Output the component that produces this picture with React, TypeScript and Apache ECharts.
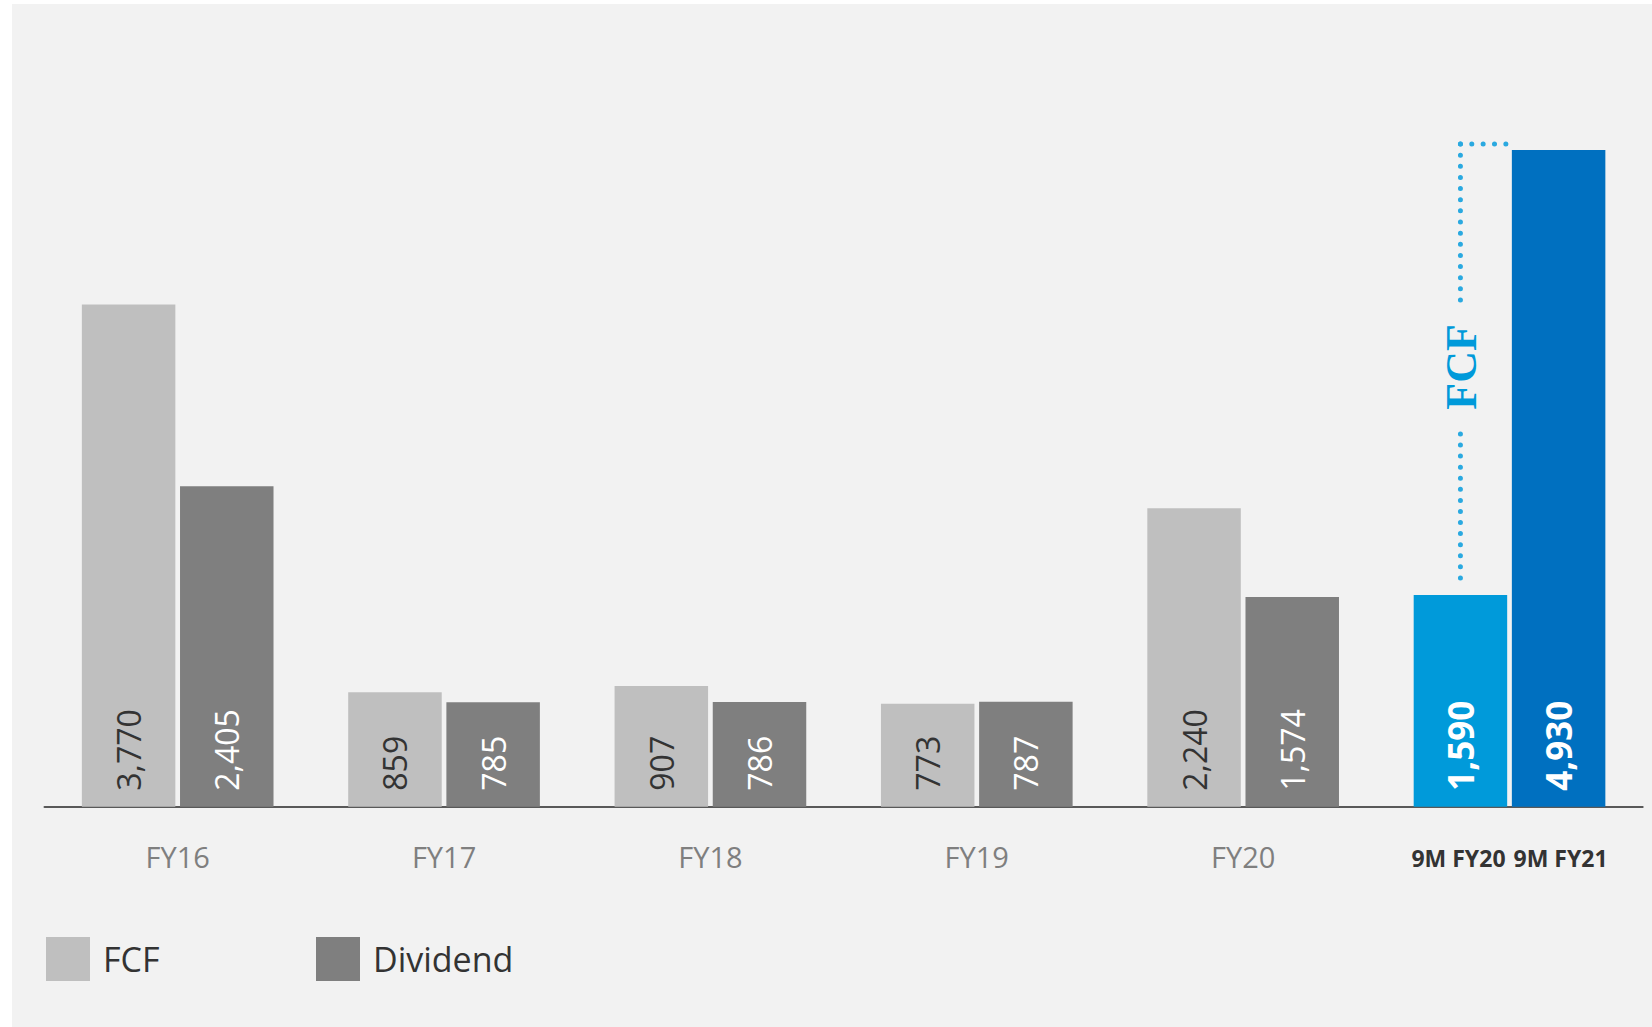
import React, { useEffect, useRef } from 'react';
import * as echarts from 'echarts';

const categories = ['FY16', 'FY17', 'FY18', 'FY19', 'FY20', '9M'];
const nineMonthLabels = ['9M FY20', '9M FY21'];
const fcfValues = [3770, 859, 907, 773, 2240, 1590];
const dividendValues = [2405, 785, 786, 787, 1574, 4930];
const seriesNames = ['FCF', 'Dividend'];
const annotationText = 'FCF';

const fmt = (v: number) => v.toLocaleString('en-US');

function dottedLine(x1: number, y1: number, x2: number, y2: number, color: string) {
  const len = Math.hypot(x2 - x1, y2 - y1);
  const n = Math.max(1, Math.round(len / 11.2));
  const s = len / n;
  const ext = 0.6 / len;
  return {
    type: 'line',
    shape: { x1, y1, x2: x2 + (x2 - x1) * ext, y2: y2 + (y2 - y1) * ext },
    style: {
      stroke: color,
      lineWidth: 5,
      lineDash: [0.01, s - 0.01],
      lineCap: 'round',
      fill: null,
    },
  };
}

export default function App() {
  const ref = useRef<HTMLDivElement>(null);
  useEffect(() => {
    const chart = echarts.init(ref.current!, null, { renderer: 'svg' });
    const BAR_PCT = 0.351;
    const GAP_PCT = 0.05;
    const lastIdx = categories.length - 1;
    const labelBase: any = {
      show: true,
      position: 'insideBottom',
      rotate: 90,
      align: 'left',
      verticalAlign: 'middle',
      distance: 16,
      fontSize: 32,
      fontFamily: 'Open Sans',
      formatter: (p: any) => fmt(p.value),
    };
    const boldLabel = { color: '#fff', fontWeight: 'bold', fontSize: 35 };
    const legendBase: any = {
      top: 937,
      itemWidth: 44,
      itemHeight: 44,
      icon: 'rect',
      padding: 0,
      selectedMode: false,
      textStyle: { fontSize: 34, color: '#333', fontFamily: 'Open Sans', padding: [0, 0, 0, 8] },
    };
    chart.setOption({
      animation: false,
      textStyle: { fontFamily: 'Open Sans' },
      grid: { left: 44.5, right: 9.3, top: 140.7, bottom: 220.3 },
      xAxis: {
        type: 'category',
        data: categories,
        axisLine: { lineStyle: { color: '#595959', width: 2 } },
        axisTick: { show: false },
        axisLabel: {
          interval: 0,
          margin: 35,
          fontSize: 29,
          color: '#7f7f7f',
          fontFamily: 'Open Sans',
          formatter: (value: string, index: number) =>
            index === lastIdx
              ? `{b|${nineMonthLabels[0]}}{g|}{b|${nineMonthLabels[1]}}`
              : value,
          rich: {
            b: { fontSize: 23, fontWeight: 'bold', color: '#333', fontFamily: 'Open Sans', padding: [4, 0, 0, 0] },
            g: { width: 8 },
          },
        },
      },
      yAxis: { type: 'value', min: 0, max: 5000, show: false },
      legend: [
        { ...legendBase, left: 46, data: [seriesNames[0]] },
        { ...legendBase, left: 316, data: [seriesNames[1]] },
      ],
      series: [
        {
          name: seriesNames[0],
          type: 'bar',
          barWidth: BAR_PCT * 100 + '%',
          barGap: GAP_PCT * 100 + '%',
          itemStyle: { color: '#bfbfbf' },
          label: { ...labelBase, color: '#333' },
          data: fcfValues.map((v, i) =>
            i === lastIdx
              ? { value: v, itemStyle: { color: '#009ada' }, label: boldLabel }
              : v
          ),
        },
        {
          name: seriesNames[1],
          type: 'bar',
          barWidth: BAR_PCT * 100 + '%',
          barGap: GAP_PCT * 100 + '%',
          itemStyle: { color: '#7f7f7f' },
          label: { ...labelBase, color: '#fff' },
          data: dividendValues.map((v, i) =>
            i === lastIdx
              ? { value: v, itemStyle: { color: '#0070c0' }, label: boldLabel }
              : v
          ),
        },
        {
          type: 'custom',
          silent: true,
          z: 5,
          encode: { x: 0, y: 1 },
          data: [[lastIdx, fcfValues[lastIdx], dividendValues[lastIdx]]],
          renderItem: (params: any, api: any) => {
            const cat = api.value(0);
            const p0 = api.coord([cat, api.value(1)]);
            const p1 = api.coord([cat, api.value(2)]);
            const band = api.size([1, 0])[0];
            const bw = band * BAR_PCT;
            const gap = bw * GAP_PCT;
            const xLine = p0[0] - gap / 2 - bw / 2;
            const xEnd = p0[0] + gap / 2 - 6;
            const yBottom = p0[1] - 17;
            const yTop = p1[1] - 6;
            const yText = (yTop + yBottom) / 2 + 6;
            const half = 67;
            const color = '#2aa9e0';
            return {
              type: 'group',
              children: [
                dottedLine(xLine, yTop, xEnd, yTop, color),
                dottedLine(xLine, yTop, xLine, yText - half, color),
                dottedLine(xLine, yBottom, xLine, yText + half, color),
                {
                  type: 'text',
                  x: xLine + 1,
                  y: yText,
                  rotation: Math.PI / 2,
                  style: {
                    text: annotationText,
                    fontFamily: 'Liberation Serif',
                    fontWeight: 'bold',
                    fontSize: 44,
                    fill: '#009ada',
                    align: 'center',
                    verticalAlign: 'middle',
                  },
                },
              ],
            };
          },
        },
      ],
    });
    return () => chart.dispose();
  }, []);
  return (
    <div style={{ position: 'fixed', left: 0, top: 0, width: 1652, height: 1027, background: '#fff' }}>
      <div style={{ position: 'absolute', left: 12, top: 4, right: 0, bottom: 0, background: '#f2f2f2' }} />
      <div ref={ref} style={{ position: 'absolute', left: 0, top: 0, width: 1652, height: 1027 }} />
    </div>
  );
}
